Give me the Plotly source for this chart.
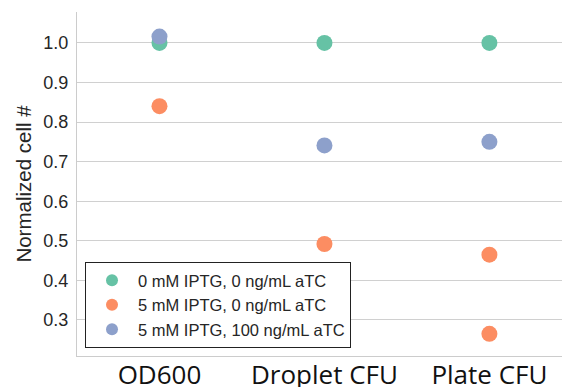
import plotly.graph_objects as go

categories = ["OD600", "Droplet CFU", "Plate CFU"]

series_names = [
    "0 mM IPTG, 0 ng/mL aTC",
    "5 mM IPTG, 0 ng/mL aTC",
    "5 mM IPTG, 100 ng/mL aTC",
]
green_x = ["OD600", "Droplet CFU", "Plate CFU"]
green_y = [1.0, 1.0, 1.0]
orange_x = ["OD600", "Droplet CFU", "Plate CFU", "Plate CFU"]
orange_y = [0.84, 0.492, 0.465, 0.265]
blue_x = ["OD600", "Droplet CFU", "Plate CFU"]
blue_y = [1.016, 0.741, 0.75]

colors = ["#66c2a5", "#fc8d62", "#8da0cb"]
yticks = [0.3, 0.4, 0.5, 0.6, 0.7, 0.8, 0.9, 1.0]

fig = go.Figure()
for name, xs, ys, c in zip(series_names, [green_x, orange_x, blue_x],
                           [green_y, orange_y, blue_y], colors):
    fig.add_trace(go.Scatter(
        x=xs, y=ys, mode="markers", name=name,
        marker=dict(color=c, size=16, line=dict(width=0)),
    ))

fig.update_layout(
    width=562, height=387,
    margin=dict(l=77, r=0, t=12, b=31),
    paper_bgcolor="white", plot_bgcolor="white",
    font=dict(family="Liberation Sans, Arial, sans-serif", color="#262626"),
    showlegend=True,
    legend=dict(
        x=0.0165, y=0.023, xanchor="left", yanchor="bottom",
        bordercolor="#222222", borderwidth=1, bgcolor="white",
        font=dict(size=16.5, color="#262626"),
        itemsizing="constant", tracegroupgap=0, itemwidth=42,
    ),
)
fig.update_xaxes(
    type="category", categoryorder="array", categoryarray=categories,
    range=[-0.5, 2.44], showgrid=False, zeroline=False, automargin=False,
    showline=True, linecolor="#cccccc", linewidth=1.2,
    tickfont=dict(family="Open Sans, sans-serif", size=26, color="#111111"),
    ticks="", ticklabelstandoff=-4,
)
fig.update_yaxes(
    range=[0.209, 1.078], tickvals=yticks, tickformat=".1f", automargin=False,
    showgrid=True, gridcolor="#d0d0d0", gridwidth=1.2, zeroline=False,
    showline=True, linecolor="#cccccc", linewidth=1.2,
    tickfont=dict(size=18, color="#262626"), ticks="", ticklabelstandoff=4,
    title=dict(text="Normalized cell #", font=dict(size=20.5, color="#262626"), standoff=6),
)

fig.write_html("out.html")
